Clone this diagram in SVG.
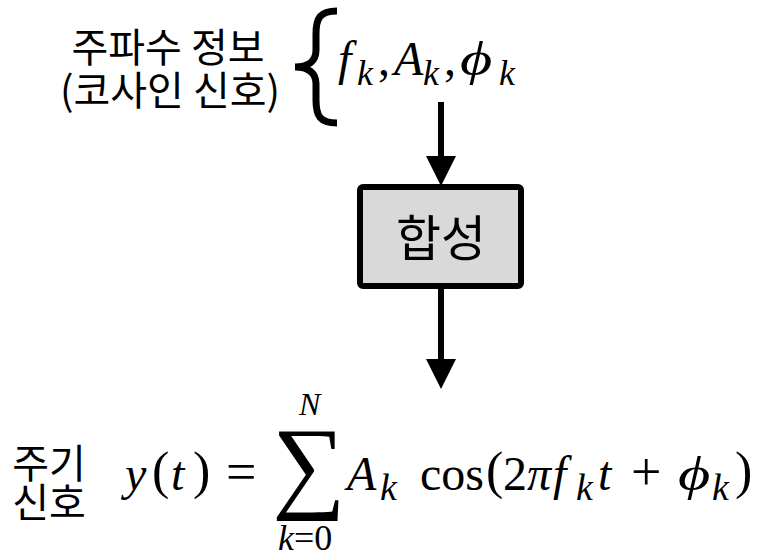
<svg xmlns="http://www.w3.org/2000/svg" width="761" height="552" viewBox="0 0 761 552">
<style>
.kr{font-family:"Noto Sans CJK KR","Noto Sans",sans-serif;fill:#000}
.m{font-family:"Liberation Serif","DejaVu Serif",serif;font-style:italic;fill:#000}
.r{font-family:"Liberation Serif","DejaVu Serif",serif;font-style:normal;fill:#000}
.conn{stroke:#000;stroke-width:6;fill:none}
</style>
<defs>
<marker id="ah" viewBox="0 0 30 30" markerWidth="30" markerHeight="30" markerUnits="userSpaceOnUse" refX="0" refY="15" orient="auto">
<path d="M0,0 L30,15 L0,30 z" fill="#000"/>
</marker>
</defs>
<rect width="761" height="552" fill="#fff"/>
<g id="input">
<text class="kr" x="168" y="62" font-size="40" text-anchor="middle">주파수 정보</text>
<text class="kr" x="170" y="105" font-size="40" text-anchor="middle">(코사인 신호)</text>
<path d="M337 11 C320 11 316 18 316 34 L316 50 C316 61 309 67 295 67 C309 67 316 73 316 84 L316 100 C316 116 320 123 337 123" fill="none" stroke="#000" stroke-width="7"/>
<text class="m" x="338" y="75" font-size="48">f</text>
<text class="m" x="357" y="85" font-size="36">k</text>
<text class="r" x="378" y="75" font-size="48">,</text>
<text class="m" x="394" y="75" font-size="48">A</text>
<text class="m" x="423" y="85" font-size="36">k</text>
<text class="r" x="444" y="75" font-size="48">,</text>
<text class="m" transform="translate(460,75) scale(1.3,1)" font-size="48">ϕ</text>
<text class="m" x="499" y="85" font-size="36">k</text>
</g>
<g id="synth">
<rect x="360" y="187" width="161" height="99" rx="3" fill="#d9d9d9" stroke="#000" stroke-width="6"/>
<text class="kr" x="441" y="256" font-size="49" text-anchor="middle">합성</text>
</g>
<g id="connectors">
<line class="conn" x1="441" y1="102" x2="441" y2="156" marker-end="url(#ah)"/>
<line class="conn" x1="441" y1="289" x2="441" y2="359" marker-end="url(#ah)"/>
</g>
<g id="output">
<text class="kr" x="49" y="478" font-size="40" text-anchor="middle">주기</text>
<text class="kr" x="49" y="517" font-size="40" text-anchor="middle">신호</text>
<text class="m" x="125" y="490" font-size="48">y</text>
<text class="r" x="152" y="488" font-size="52">(</text>
<text class="m" x="171" y="490" font-size="48">t</text>
<text class="r" x="193" y="488" font-size="52">)</text>
<text class="r" x="226" y="490" font-size="54">=</text>
<text class="r" x="272" y="499" font-size="103">∑</text>
<text class="m" x="299" y="415" font-size="32">N</text>
<text class="m" x="278" y="550" font-size="36">k<tspan class="r">=0</tspan></text>
<text class="m" x="347" y="490" font-size="48">A</text>
<text class="m" x="380" y="500" font-size="38">k</text>
<text class="r" x="420" y="490" font-size="48">cos</text>
<text class="r" x="486" y="488" font-size="52">(</text>
<text class="r" x="503" y="490" font-size="48">2</text>
<text class="m" x="527" y="490" font-size="48">π</text>
<text class="m" x="553" y="490" font-size="48">f</text>
<text class="m" x="576" y="500" font-size="38">k</text>
<text class="m" x="598" y="490" font-size="48">t</text>
<text class="r" x="631" y="490" font-size="54">+</text>
<text class="m" transform="translate(678,490) scale(1.3,1)" font-size="48">ϕ</text>
<text class="m" x="712" y="500" font-size="38">k</text>
<text class="r" x="735" y="488" font-size="52">)</text>
</g>
</svg>
